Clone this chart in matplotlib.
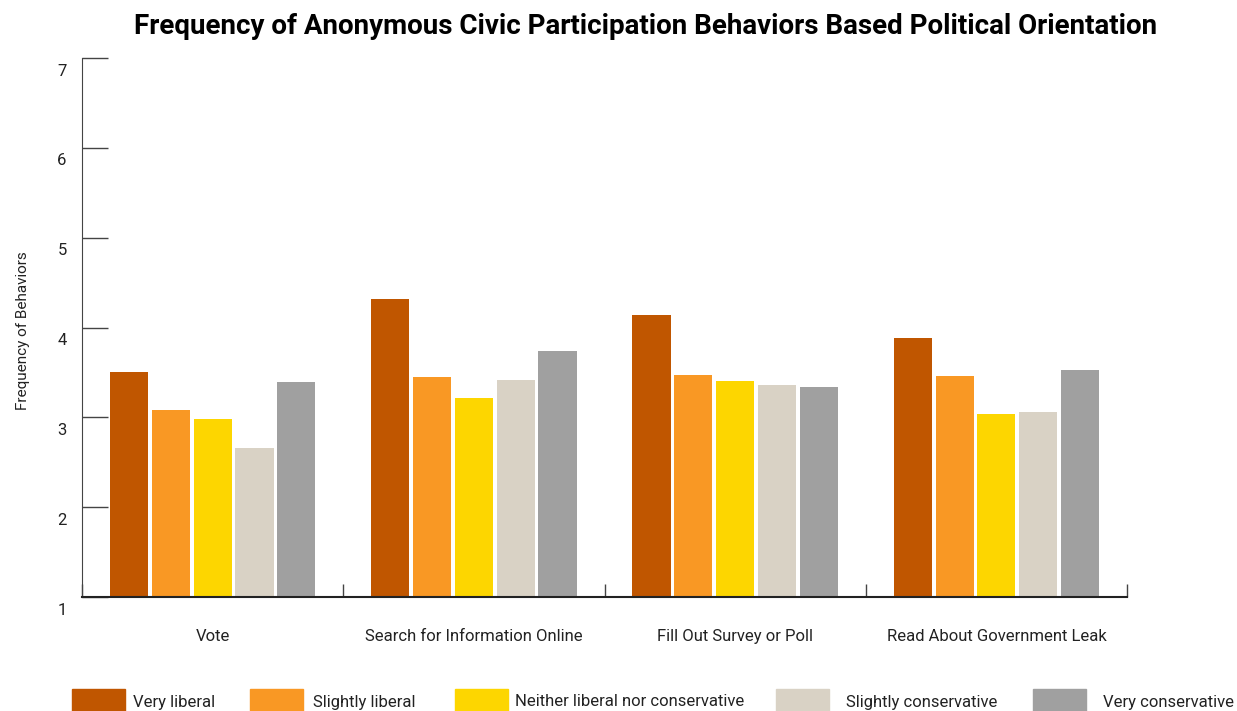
import matplotlib.pyplot as plt
import matplotlib.transforms as mtransforms
import numpy as np
from matplotlib.patches import Rectangle

plt.rcParams['font.family'] = ['Roboto', 'DejaVu Sans']

behaviors = ['Vote', 'Search for Information Online', 'Fill Out Survey or Poll',
             'Read About Government Leak']
orientations = ['Very liberal', 'Slightly liberal', 'Neither liberal nor conservative',
                'Slightly conservative', 'Very conservative']
colors = ['#C05600', '#F99824', '#FDD600', '#D9D2C5', '#A0A0A0']

very_liberal = [3.50, 4.32, 4.14, 3.88]
slightly_liberal = [3.08, 3.45, 3.47, 3.46]
neither = [2.98, 3.22, 3.41, 3.04]
slightly_conservative = [2.66, 3.42, 3.36, 3.06]
very_conservative = [3.39, 3.74, 3.34, 3.53]
series = [very_liberal, slightly_liberal, neither, slightly_conservative, very_conservative]

fig = plt.figure(figsize=(12.37, 7.11), dpi=100)
ax = fig.add_axes([0.0663, 0.1603, 0.8448, 0.7581])

x = np.arange(len(behaviors)) + 0.5
pitch = 0.16
width = 0.146
for i, vals in enumerate(series):
    ax.bar(x + (i - 2) * pitch, np.array(vals) - 1, width, bottom=1,
           color=colors[i], zorder=2)

ax.set_xlim(0, len(behaviors))
ax.set_ylim(1, 7)

# y axis: ticks point inward, labels sit a bit below each tick
ax.set_yticks(range(1, 8))
ax.tick_params(axis='y', direction='in', length=18.7, width=1, color='#444444',
               labelsize=12, labelcolor='#222222', pad=11)
offset = mtransforms.ScaledTranslation(0, -4 / 72, fig.dpi_scale_trans)
for lab in ax.get_yticklabels():
    lab.set_verticalalignment('top')
    lab.set_transform(lab.get_transform() + offset)

# x axis: small boundary ticks between categories, labels centred
ax.set_xticks(np.arange(len(behaviors) + 1))
ax.set_xticklabels([])
ax.tick_params(axis='x', direction='in', length=9.4, width=1, color='#444444')
for xi, name in zip(x, behaviors):
    ax.text(xi, -0.073, name, transform=ax.get_xaxis_transform(), ha='center',
            va='center', fontsize=12, color='#222222')

for side in ['top', 'right']:
    ax.spines[side].set_visible(False)
ax.spines['left'].set_color('#444444')
ax.spines['bottom'].set_color('#222222')
ax.spines['bottom'].set_linewidth(1.5)

fig.text(23 / 1237, 0.5355, 'Frequency of Behaviors', rotation=90, ha='center',
         va='center', fontsize=11, color='#222222')

fig.text(0.522, 0.963, 'Frequency of Anonymous Civic Participation Behaviors Based Political Orientation',
         ha='center', va='center', fontsize=20, fontweight='bold')

# legend row along the bottom
patch_x = [72, 250, 455, 776, 1033]
text_x = [133, 313, 515, 846, 1103]
W, H = 1237, 711
for px, tx, col, name in zip(patch_x, text_x, colors, orientations):
    fig.patches.append(Rectangle((px / W, 0), 53 / W, 22 / H,
                                 transform=fig.transFigure, color=col))
    fig.text(tx / W, (H - 702) / H, name, ha='left', va='center',
             fontsize=12, color='#222222')

fig.savefig('out.png', dpi=100)
